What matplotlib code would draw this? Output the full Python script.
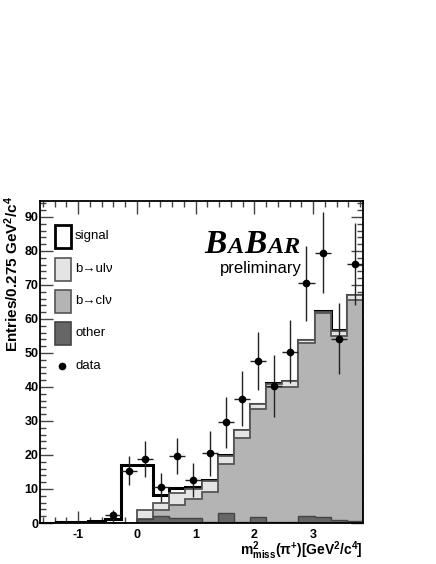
import numpy as np
import matplotlib
matplotlib.use("Agg")
import matplotlib.pyplot as plt
from matplotlib.patches import Rectangle

plt.rcParams['font.family'] = ['Liberation Sans', 'DejaVu Sans']
plt.rcParams['mathtext.fontset'] = 'custom'
plt.rcParams['mathtext.rm'] = 'Liberation Sans'
plt.rcParams['mathtext.bf'] = 'Liberation Sans:bold'
plt.rcParams['mathtext.it'] = 'Liberation Sans:italic'

# bins of 0.275 GeV^2/c^4
edges = np.linspace(-1.65, 3.85, 21)
centers = 0.5 * (edges[1:] + edges[:-1])

# stacked MC components (per bin)
other = [0, 0, 0, 0, 0, 0, 1.3, 2.0, 1.6, 1.4, 0.4, 2.8, 0.3, 1.7, 0.3, 0.2, 2.0, 1.8, 0.9, 0.7]
b_clv = [0, 0, 0, 0, 0, 0, 0.0, 1.9, 3.8, 5.8, 8.8, 14.5, 24.6, 31.7, 39.6, 39.7, 50.8, 60.0, 54.2, 64.9]
b_ulv = [0, 0, 0, 0, 0, 0, 2.6, 2.0, 3.5, 2.7, 3.2, 2.5, 2.4, 1.6, 1.1, 1.9, 1.0, 0.4, 1.5, 1.5]
signal = [0, 0.15, 0.15, 0.5, 1.3, 17.2, 13.1, 2.2, 1.5, 0.8, 0.1, 0.1, 0.1, 0.1, 0.1, 0.1, 0.1, 0.1, 0.1, 0.1]

# data (bins with entries)
data_idx = [4, 5, 6, 7, 8, 9, 10, 11, 12, 13, 14, 15, 16, 17, 18, 19]
data_val = [2.3, 15.4, 18.8, 10.5, 19.7, 12.7, 20.5, 29.7, 36.5, 47.7, 40.3, 50.4, 70.5, 79.5, 54.2, 76.2]
data_err = [1.5, 4.3, 5.3, 4.2, 5.4, 5.0, 6.7, 7.5, 8.1, 8.6, 9.0, 9.3, 11.0, 12.0, 10.4, 12.0]

W, H = 436, 564
fig = plt.figure(figsize=(W / 100, H / 100), dpi=100)
ax = fig.add_axes([40 / W, 1 - 523 / H, 323 / W, 322 / H])

c_other = '#666666'
c_clv = '#b4b4b4'
c_ulv = '#e4e4e4'
edge_gray = '#555555'

s1 = np.array(other)
s2 = s1 + np.array(b_clv)
s3 = s2 + np.array(b_ulv)
s4 = s3 + np.array(signal)

ax.stairs(s4, edges, baseline=0, fill=True, color='white', zorder=1)
ax.stairs(s4, edges, baseline=0, color='black', lw=2.2, zorder=2)
ax.stairs(s3, edges, baseline=0, fill=True, facecolor=c_ulv, zorder=3)
ax.stairs(s3, edges, baseline=0, color=edge_gray, lw=1.3, zorder=3)
ax.stairs(s2, edges, baseline=0, fill=True, facecolor=c_clv, zorder=4)
ax.stairs(s2, edges, baseline=0, color=edge_gray, lw=1.3, zorder=4)
ax.stairs(s1, edges, baseline=0, fill=True, facecolor=c_other, zorder=5)
ax.stairs(s1, edges, baseline=0, color='#444444', lw=1.0, zorder=5)

xd = centers[data_idx]
ax.errorbar(xd, data_val, yerr=data_err, xerr=0.1375, fmt='o', color='black',
            ecolor='#222222', elinewidth=1.0, markersize=4.5, capsize=0, zorder=10)

ax.set_xlim(-1.65, 3.85)
ax.set_ylim(0, 94.7)
ax.set_xticks([-1, 0, 1, 2, 3])
ax.set_xticklabels(['-1', '0', '1', '2', '3'])
ax.set_xticks(np.arange(-1.6, 3.85, 0.2), minor=True)
ax.set_yticks(np.arange(0, 91, 10))
ax.set_yticks(np.arange(0, 95, 2), minor=True)
ax.tick_params(which='both', direction='in', top=True, right=True, color='#444444', width=1.0)
ax.tick_params(which='major', length=9)
ax.tick_params(which='minor', length=4.5)
ax.tick_params(axis='y', which='major', pad=1)
ax.tick_params(axis='x', which='major', pad=4)
for lab in ax.get_xticklabels() + ax.get_yticklabels():
    lab.set_fontweight('bold')
    lab.set_fontsize(9)
for sp in ax.spines.values():
    sp.set_linewidth(1.3)
    sp.set_zorder(20)


def px(x, y):
    return x / W, 1 - y / H


lx, ly = px(12, 196)
fig.text(lx, ly, r'Entries/0.275 GeV$^\mathbf{2}$/c$^\mathbf{4}$', fontsize=11,
         fontweight='bold', rotation=90, ha='center', va='top')
lx, ly = px(363, 551)
fig.text(lx, ly, r'$\mathbf{m^{2}_{miss}(\pi^{+})[GeV^{2}/c^{4}]}$',
         ha='right', va='center', fontsize=10)

# legend drawn by hand
leg = [('signal', 'white', 'black', 2.0, 225),
       ('b→ulν', c_ulv, edge_gray, 1.2, 258),
       ('b→clν', c_clv, edge_gray, 1.2, 290),
       ('other', c_other, '#444444', 1.2, 322)]
for name, fc, ec, lw, ytop in leg:
    x0, y0 = px(55, ytop + 23)
    fig.add_artist(Rectangle((x0, y0), 16 / W, 23 / H, transform=fig.transFigure,
                             facecolor=fc, edgecolor=ec, lw=lw))
    tx, ty = px(75, ytop + 11)
    fig.text(tx, ty, name, fontsize=9.5, va='center', ha='left')
mx, my = px(62, 366)
fig.add_artist(plt.Line2D([mx], [my], marker='o', color='black', markersize=4.5,
                          transform=fig.transFigure))
tx, ty = px(75, 366)
fig.text(tx, ty, 'data', fontsize=9.5, va='center', ha='left')

# BaBar logo: letters laid side by side, then right-aligned at x=300 px
logo = [('B', 24), ('A', 17.5), ('B', 24), ('A', 17.5), ('R', 17.5)]
renderer = fig.canvas.get_renderer()
texts = []
xcur = 0.0
for ch, fs in logo:
    t = fig.text(0, 1 - 253 / H, ch, fontsize=fs, fontfamily='Liberation Serif',
                 fontweight='bold', fontstyle='italic', ha='left', va='baseline')
    w = t.get_window_extent(renderer).width
    texts.append((t, xcur))
    xcur += w + 0.5
shift = 300 - xcur
for t, xo in texts:
    t.set_x((xo + shift) / W)
lx, ly = px(302, 268)
fig.text(lx, ly, 'preliminary', fontsize=12, ha='right', va='center')

fig.savefig('out.png', dpi=100)
